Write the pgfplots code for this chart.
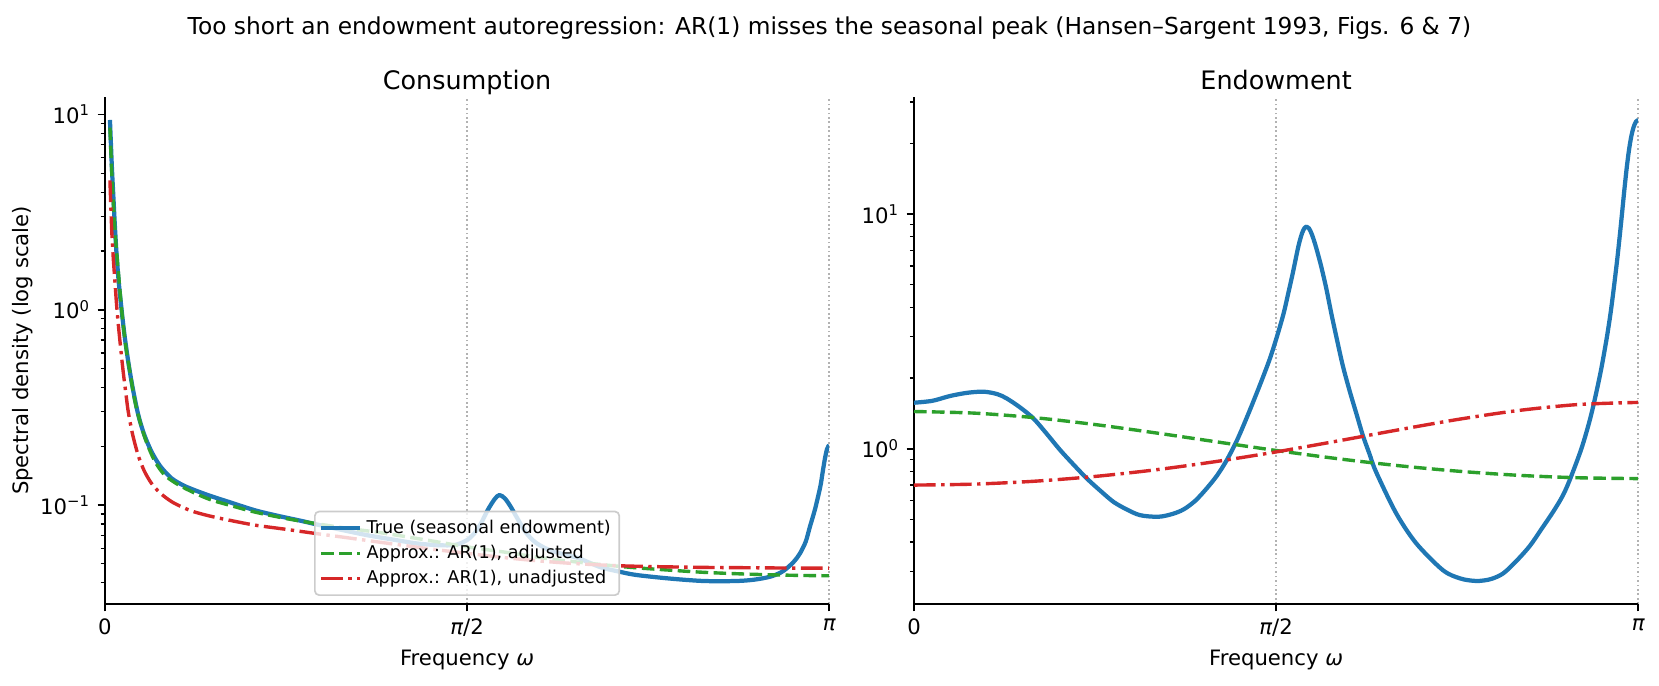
\documentclass[border=0pt]{standalone}
\usepackage{pgfplots}
\pgfplotsset{compat=1.18}
\usepackage{pgfplotstable}
\usepackage{fontspec}
\setmainfont{DejaVu Sans}
\definecolor{tabblue}{HTML}{1F77B4}
\definecolor{tabgreen}{HTML}{2CA02C}
\definecolor{tabred}{HTML}{D62728}

% ---------------- data: consumption (left) ----------------
\pgfplotstableread{
w s
0.0217 9.38
0.0300 5.40
0.0361 3.89
0.0430 2.70
0.0506 1.91
0.0600 1.38
0.0722 1.00
0.0850 0.74
0.1010 0.543
0.1200 0.40
0.1444 0.29
0.1700 0.23
0.2020 0.1876
0.2400 0.158
0.2890 0.137
0.3400 0.126
0.3900 0.119
0.4600 0.111
0.5340 0.104
0.6500 0.094
0.7500 0.088
0.8500 0.083
0.9500 0.078
1.1330 0.0702
1.2500 0.0665
1.3500 0.0636
1.4500 0.0622
1.5200 0.0625
1.5700 0.0660
1.6000 0.0710
1.6300 0.0800
1.6600 0.0940
1.6900 0.1070
1.7110 0.1125
1.7350 0.1080
1.7600 0.0980
1.7900 0.0850
1.8270 0.0720
1.8700 0.0640
1.9280 0.0588
2.0000 0.0555
2.0580 0.0532
2.1500 0.0480
2.2330 0.0455
2.3050 0.0438
2.4500 0.0420
2.5970 0.0408
2.7410 0.0408
2.8200 0.0415
2.8850 0.0429
2.9300 0.0450
2.9570 0.0473
2.9900 0.0515
3.0150 0.0565
3.0400 0.0650
3.0580 0.0774
3.0800 0.0950
3.1030 0.1240
3.1120 0.1440
3.1220 0.1700
3.1320 0.1930
3.1416 0.2030
}\lblue

\pgfplotstableread{
w s
0.0217 8.57
0.0300 4.90
0.0360 3.60
0.0450 2.40
0.0580 1.57
0.0700 1.08
0.0790 0.84
0.0920 0.63
0.1080 0.483
0.1300 0.34
0.1520 0.267
0.1800 0.21
0.2170 0.167
0.2600 0.142
0.3180 0.127
0.3900 0.115
0.4620 0.106
0.5500 0.099
0.6500 0.092
0.7800 0.0855
0.9090 0.0805
1.0500 0.0760
1.2000 0.0720
1.4000 0.0660
1.5710 0.0610
1.7500 0.0570
1.9000 0.0535
2.0500 0.0510
2.2470 0.0483
2.4000 0.0468
2.5970 0.0452
2.8000 0.0442
3.0000 0.0436
3.1416 0.0434
}\lgreen

\pgfplotstableread{
w s
0.0217 4.60
0.0290 2.62
0.0360 1.85
0.0433 1.40
0.0500 1.08
0.0580 0.84
0.0680 0.64
0.0790 0.483
0.0900 0.38
0.1010 0.301
0.1200 0.23
0.1440 0.18
0.1700 0.150
0.2020 0.129
0.2400 0.115
0.2890 0.104
0.3400 0.097
0.3900 0.092
0.4600 0.0875
0.5340 0.0838
0.6500 0.0789
0.7800 0.0752
0.9090 0.0716
1.0500 0.0680
1.2000 0.0643
1.4000 0.0598
1.5710 0.0565
1.7500 0.0535
1.9000 0.0515
2.0500 0.0500
2.2400 0.0488
2.4000 0.0483
2.5970 0.0479
2.8000 0.0477
3.0000 0.0475
3.1416 0.0475
}\lred

% ---------------- data: endowment (right) ----------------
\pgfplotstableread{
w s
0.0000 1.57
0.0800 1.60
0.1560 1.677
0.2300 1.73
0.3010 1.75
0.3600 1.71
0.4020 1.638
0.4600 1.50
0.5180 1.346
0.5750 1.16
0.6340 0.987
0.6900 0.86
0.7490 0.748
0.8100 0.66
0.8650 0.594
0.9200 0.553
0.9810 0.521
1.0600 0.513
1.1200 0.527
1.1690 0.551
1.2200 0.60
1.2700 0.678
1.3150 0.77
1.3570 0.895
1.4030 1.096
1.4530 1.429
1.5030 1.895
1.5430 2.407
1.5730 2.972
1.6030 3.758
1.6230 4.571
1.6430 5.590
1.6630 6.959
1.6730 7.656
1.6830 8.260
1.6930 8.680
1.7030 8.831
1.7130 8.69
1.7230 8.32
1.7330 7.82
1.7450 7.16
1.7650 6.05
1.7880 4.84
1.8100 3.78
1.8320 3.00
1.8600 2.26
1.8900 1.76
1.9200 1.40
1.9470 1.14
1.9750 0.955
2.0050 0.794
2.0920 0.530
2.1790 0.395
2.2940 0.304
2.3700 0.280
2.4390 0.2733
2.5000 0.278
2.5550 0.294
2.6100 0.330
2.6710 0.385
2.7200 0.452
2.7716 0.537
2.8116 0.624
2.8416 0.724
2.8916 0.977
2.9216 1.22
2.9416 1.45
2.9616 1.77
2.9816 2.20
3.0016 2.83
3.0116 3.25
3.0216 3.78
3.0316 4.49
3.0416 5.40
3.0516 6.55
3.0616 8.09
3.0716 10.12
3.0816 12.71
3.0916 15.70
3.1016 18.75
3.1116 21.43
3.1216 23.44
3.1316 24.72
3.1416 25.12
}\rblue

\pgfplotstableread{
w s
0.0000 1.4403
0.2618 1.4178
0.5236 1.3557
0.7854 1.2675
1.0472 1.1684
1.3090 1.0709
1.5708 0.9829
1.8326 0.9082
2.0944 0.8482
2.3562 0.8027
2.6180 0.7709
2.8798 0.7522
3.1416 0.7460
}\rgreen

\pgfplotstableread{
w s
0.0000 0.7000
0.2618 0.7067
0.5236 0.7271
0.7854 0.7620
1.0472 0.8129
1.3090 0.8815
1.5708 0.9692
1.8326 1.0764
2.0944 1.2000
2.3562 1.3313
2.6180 1.4533
2.8798 1.5422
3.1416 1.5750
}\rred

\pgfplotsset{
  legend image code/.code={\draw[#1] (0pt,0pt) -- (18.4pt,0pt);},
}

\begin{document}
\begin{tikzpicture}
\path[use as bounding box] (0,0) rectangle (782.5pt,323.1pt);

\node[font=\fontsize{11}{13}\selectfont, anchor=base] at (391.25pt,307.0pt)
  {Too short an endowment autoregression: AR(1) misses the seasonal peak (Hansen–Sargent 1993, Figs. 6 \& 7)};

\begin{axis}[
  ymode=log,
  scale only axis,
  width=341.6pt, height=239.15pt,
  at={(49.5pt,38.2pt)}, anchor=south west,
  axis x line*=bottom, axis y line*=left,
  axis line style={-, line width=0.8pt, black},
  xmin=0, xmax=3.14159265,
  xtick={0,1.5707963,3.14159265},
  xticklabels={0,{\itshape π}/2,{\itshape π}},
  tick align=outside,
  major tick length=3.5pt, minor tick length=2pt,
  major tick style={line width=0.8pt, black},
  minor tick style={line width=0.6pt, black},
  xmajorgrids,
  major grid style={black!30, line width=0.8pt, dash pattern=on 0.8pt off 1.3pt},
  tick label style={font=\fontsize{10}{12}\selectfont},
  label style={font=\fontsize{10}{12}\selectfont},
  title style={font=\fontsize{12}{14}\selectfont, at={(axis description cs:0.5,1)}, anchor=base, yshift=-2.3pt},
  xlabel={Frequency {\itshape ω}},
  xlabel style={at={(axis description cs:0.5,0)}, anchor=base, yshift=-28.8pt},
  title={Consumption},
  ymin=0.0311, ymax=12.3,
  ytick={0.1,1,10},
  yticklabels={10\textsuperscript{−1},10\textsuperscript{0},10\textsuperscript{1}},
  minor ytick={0.04,0.05,0.06,0.07,0.08,0.09,0.2,0.3,0.4,0.5,0.6,0.7,0.8,0.9,2,3,4,5,6,7,8,9},
  ylabel={Spectral density (log scale)},
  ylabel style={at={(axis description cs:-0.1136,0.5)}, anchor=center},
  legend cell align=left,
  legend style={at={(axis description cs:0.5,0.0159)}, anchor=south,
    draw=black!20, line width=0.8pt, rounded corners=2pt,
    fill=white, fill opacity=0.8, text opacity=1,
    font=\fontsize{8.3}{10}\selectfont,
    inner xsep=2pt, inner ysep=2pt, row sep=0pt},
]
\addplot[tabblue, line width=2pt, line join=round, smooth, tension=0.5] table[x=w, y=s] {\lblue};
\addlegendentry{True (seasonal endowment)}
\addplot[tabgreen, line width=1.6pt, dash pattern=on 5.92pt off 2.56pt, smooth, tension=0.5] table[x=w, y=s] {\lgreen};
\addlegendentry{Approx.: AR(1), adjusted}
\addplot[tabred, line width=1.6pt, dash pattern=on 10.24pt off 2.56pt on 1.6pt off 2.56pt, smooth, tension=0.5] table[x=w, y=s] {\lred};
\addlegendentry{Approx.: AR(1), unadjusted}
\end{axis}

\begin{axis}[
  ymode=log,
  scale only axis,
  width=341.6pt, height=239.15pt,
  at={(431.1pt,38.2pt)}, anchor=south west,
  axis x line*=bottom, axis y line*=left,
  axis line style={-, line width=0.8pt, black},
  xmin=0, xmax=3.14159265,
  xtick={0,1.5707963,3.14159265},
  xticklabels={0,{\itshape π}/2,{\itshape π}},
  tick align=outside,
  major tick length=3.5pt, minor tick length=2pt,
  major tick style={line width=0.8pt, black},
  minor tick style={line width=0.6pt, black},
  xmajorgrids,
  major grid style={black!30, line width=0.8pt, dash pattern=on 0.8pt off 1.3pt},
  tick label style={font=\fontsize{10}{12}\selectfont},
  label style={font=\fontsize{10}{12}\selectfont},
  title style={font=\fontsize{12}{14}\selectfont, at={(axis description cs:0.5,1)}, anchor=base, yshift=-2.3pt},
  xlabel={Frequency {\itshape ω}},
  xlabel style={at={(axis description cs:0.5,0)}, anchor=base, yshift=-28.8pt},
  title={Endowment},
  ymin=0.218, ymax=31.5,
  ytick={1,10},
  yticklabels={10\textsuperscript{0},10\textsuperscript{1}},
  minor ytick={0.3,0.4,0.5,0.6,0.7,0.8,0.9,2,3,4,5,6,7,8,9,20,30},
]
\addplot[tabblue, line width=2pt, line join=round, smooth, tension=0.5] table[x=w, y=s] {\rblue};
\addplot[tabgreen, line width=1.6pt, dash pattern=on 5.92pt off 2.56pt, smooth, tension=0.5] table[x=w, y=s] {\rgreen};
\addplot[tabred, line width=1.6pt, dash pattern=on 10.24pt off 2.56pt on 1.6pt off 2.56pt, smooth, tension=0.5] table[x=w, y=s] {\rred};
\end{axis}
\end{tikzpicture}
\end{document}
